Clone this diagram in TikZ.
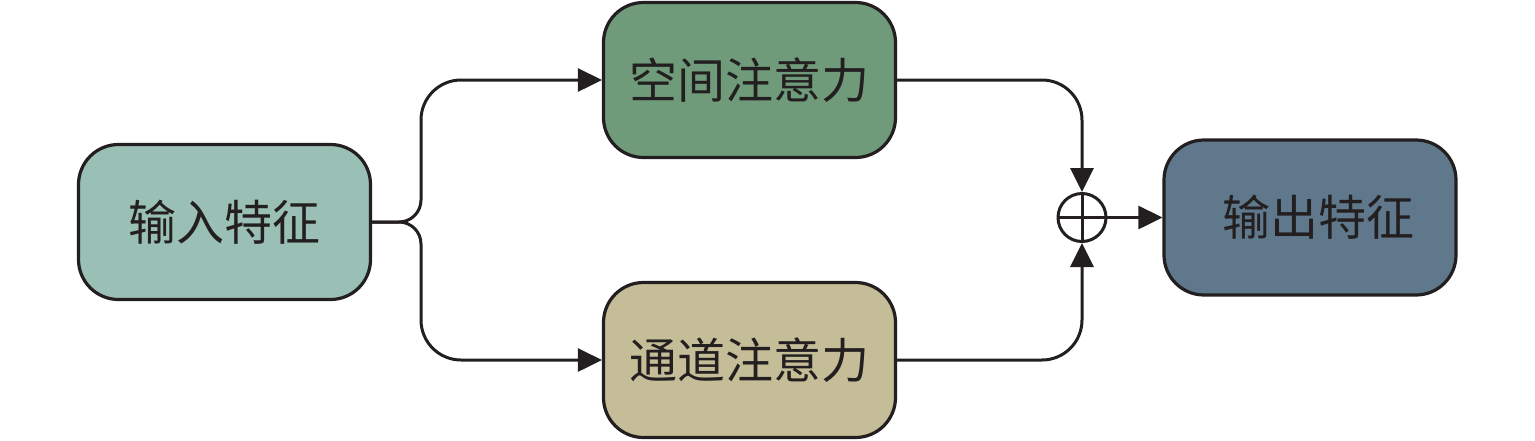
\documentclass[tikz,border=0pt]{standalone}
\usepackage{fontspec}
\newfontfamily\cjk{Noto Sans CJK SC}
\usetikzlibrary{arrows.meta}
\definecolor{ink}{HTML}{231F20}
\definecolor{cin}{HTML}{9ABFB4}
\definecolor{csp}{HTML}{6F9B7A}
\definecolor{cch}{HTML}{C5BD97}
\definecolor{cout}{HTML}{5F788C}
\tikzset{
  box/.style={draw=ink, line width=3.2pt, rounded corners=40pt, minimum width=292pt, minimum height=155pt, inner sep=0pt, font=\cjk\fontsize{48pt}{52pt}\selectfont, text=ink},
  conn/.style={draw=ink, line width=3pt, -{Triangle[length=24pt,width=23pt]}},
}
\begin{document}
\begin{tikzpicture}[x=1pt,y=-1pt]
\useasboundingbox (0,0) rectangle (1535,440);
\node[box, fill=cin] (in) at (224.5,222) {输入特征};
\node[box, fill=csp] (sp) at (749.5,80) {空间注意力};
\node[box, fill=cch] (ch) at (749.5,360) {通道注意力};
\node[box, fill=cout] (out) at (1310,217.5) {\hspace*{16pt}输出特征};
\node[draw=ink, line width=3pt, circle, minimum size=48pt, inner sep=0pt] (sum) at (1082,217.5) {};
\draw[draw=ink, line width=3pt] (sum.north) -- (sum.south) (sum.west) -- (sum.east);
\coordinate (j) at (421,222);
\draw[conn] (in.east) [rounded corners=22pt] -- (j) [rounded corners=40pt] -- (j |- sp.west) -- (sp.west);
\draw[conn] (in.east) [rounded corners=22pt] -- (j) [rounded corners=40pt] -- (j |- ch.west) -- (ch.west);
\draw[conn, rounded corners=40pt] (sp.east) -| (sum.north);
\draw[conn, rounded corners=40pt] (ch.east) -| (sum.south);
\draw[conn] (sum.east) -- (out.west);
\end{tikzpicture}
\end{document}
